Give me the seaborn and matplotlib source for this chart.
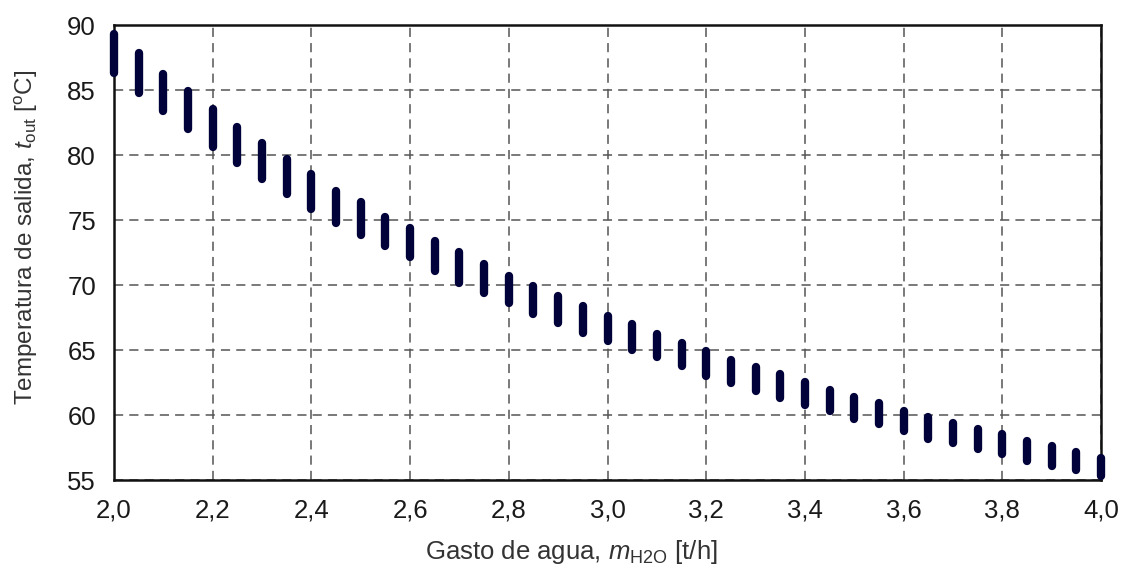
import numpy as np
import pandas as pd
import matplotlib
matplotlib.use("Agg")
import matplotlib.pyplot as plt
import seaborn as sns
from matplotlib.ticker import FuncFormatter

# ---- data ----
flow = [2.00, 2.05, 2.10, 2.15, 2.20, 2.25, 2.30, 2.35, 2.40, 2.45,
        2.50, 2.55, 2.60, 2.65, 2.70, 2.75, 2.80, 2.85, 2.90, 2.95,
        3.00, 3.05, 3.10, 3.15, 3.20, 3.25, 3.30, 3.35, 3.40, 3.45,
        3.50, 3.55, 3.60, 3.65, 3.70, 3.75, 3.80, 3.85, 3.90, 3.95, 4.00]
t_high = [89.6, 88.1, 86.5, 85.2, 83.8, 82.4, 81.2, 80.0, 78.8, 77.5,
          76.7, 75.5, 74.7, 73.7, 72.8, 71.9, 71.0, 70.2, 69.4, 68.7,
          67.9, 67.3, 66.5, 65.8, 65.2, 64.5, 64.0, 63.4, 62.8, 62.2,
          61.7, 61.2, 60.6, 60.1, 59.7, 59.2, 58.8, 58.3, 57.9, 57.4, 57.0]
t_low = [86.0, 84.5, 83.1, 81.7, 80.3, 79.1, 77.9, 76.7, 75.6, 74.5,
         73.6, 72.7, 71.9, 70.8, 69.9, 69.1, 68.3, 67.5, 66.8, 66.0,
         65.4, 64.7, 64.2, 63.5, 62.7, 62.2, 61.6, 61.0, 60.5, 60.0,
         59.4, 59.0, 58.5, 57.9, 57.6, 57.1, 56.7, 56.2, 55.8, 55.5, 55.0]
x_ticks = [2.0, 2.2, 2.4, 2.6, 2.8, 3.0, 3.2, 3.4, 3.6, 3.8, 4.0]
y_ticks = [55, 60, 65, 70, 75, 80, 85, 90]

# round caps add half the line width at each end; draw slightly inside
cap = 0.28
df = pd.DataFrame({
    "flow": flow + flow,
    "temp": [h - cap for h in t_high] + [l + cap for l in t_low],
    "unit": list(range(len(flow))) * 2,
})

sns.set_theme(style="white")
plt.rcParams["font.family"] = ["Liberation Sans", "DejaVu Sans"]
plt.rcParams["mathtext.fontset"] = "custom"
plt.rcParams["mathtext.rm"] = "Liberation Sans"
plt.rcParams["mathtext.it"] = "Liberation Sans:italic"

fig = plt.figure(figsize=(11.22, 5.67), dpi=100)
ax = fig.add_axes([0.1016, 0.1534, 0.8797, 0.8025])

sns.lineplot(data=df, x="flow", y="temp", units="unit", estimator=None,
             color="#02023a", linewidth=6, solid_capstyle="round",
             ax=ax, legend=False, clip_on=False, zorder=3)

ax.set_xlim(2.0, 4.0)
ax.set_ylim(55, 90)
ax.set_xticks(x_ticks)
ax.set_yticks(y_ticks)
ax.xaxis.set_major_formatter(FuncFormatter(lambda v, p: f"{v:.1f}".replace(".", ",")))
ax.tick_params(axis="both", length=0, labelsize=18.5, colors="#1a1a1a")
ax.tick_params(axis="x", pad=13)
ax.tick_params(axis="y", pad=13)

ax.grid(True, linestyle=(0, (6, 4)), color="#555555", linewidth=1.1, zorder=1)
ax.set_axisbelow(True)
for s in ax.spines.values():
    s.set_visible(True)
    s.set_color("#111111")
    s.set_linewidth(1.8)

ax.set_xlabel(r"Gasto de agua, $m_\mathrm{H2O}$ [t/h]", fontsize=18.5,
              color="#333333")
ax.set_ylabel(r"Temperatura de salida, $t_\mathrm{out}$ [$^\mathrm{o}$C]",
              fontsize=17.5, color="#333333")
ax.xaxis.set_label_coords(0.4635, -0.127)
ax.yaxis.set_label_coords(-0.075, 0.534)

fig.savefig("out.png", dpi=100)
